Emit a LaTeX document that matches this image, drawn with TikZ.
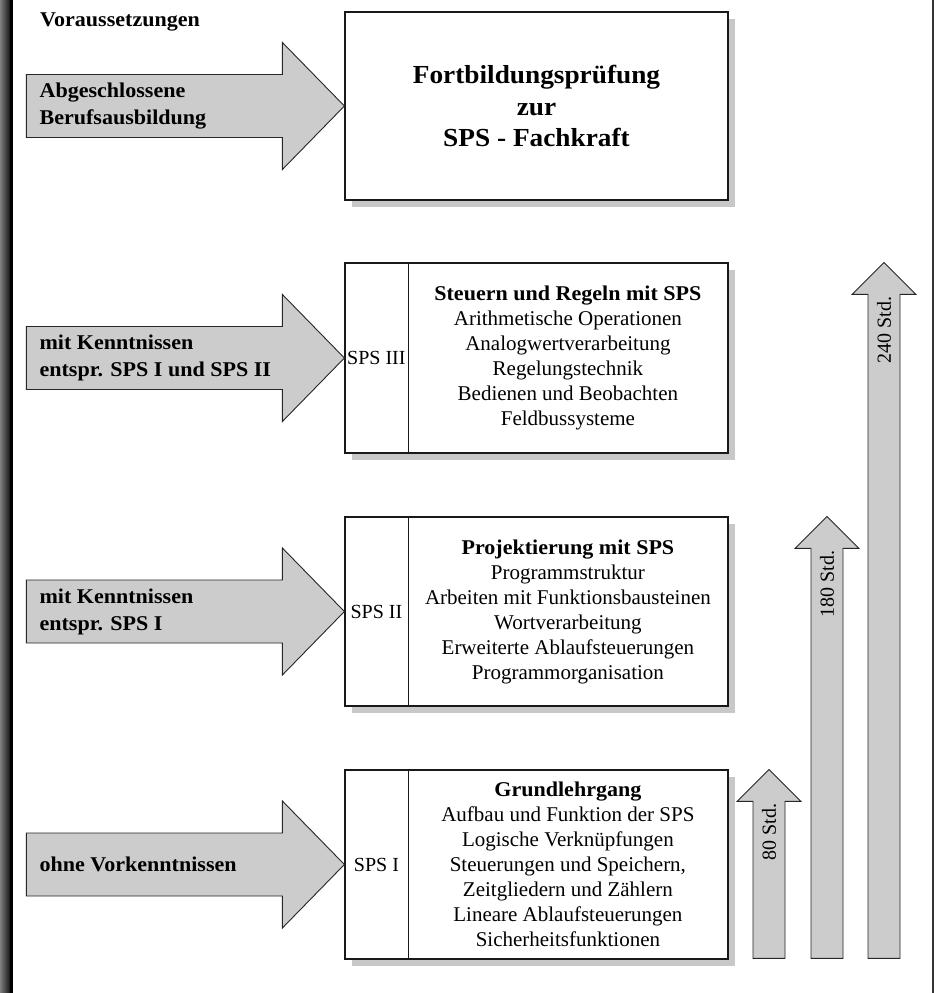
\documentclass[tikz,border=0pt]{standalone}
\usepackage{fontspec}
\setmainfont{Liberation Serif}
\newfontfamily\boldfont[FakeStretch=1.05]{Liberation Serif}
\usetikzlibrary{shadows,calc}
\definecolor{arrgray}{HTML}{CCCCCC}
\definecolor{shadowgray}{HTML}{C8C8C8}
\tikzset{
  bigarrow/.style={fill=arrgray, draw=black!85, line width=0.9pt, line join=miter},
  boxnode/.style={draw=black!90, line width=1.2pt, fill=white, minimum width=383pt, inner sep=0pt,
    drop shadow={shadow xshift=7pt, shadow yshift=-7pt, fill=shadowgray, opacity=1}},
  divider/.style={draw=black!90, line width=1.2pt},
  lbl/.style={font=\boldfont\bfseries\fontsize{21}{27}\selectfont, align=left, anchor=west, inner sep=0pt},
  body/.style={font=\fontsize{21}{25}\selectfont, align=center, inner sep=0pt},
  tag/.style={font=\fontsize{20}{24}\selectfont, inner sep=0pt},
  vlabel/.style={font=\fontsize{20}{24}\selectfont, rotate=90, anchor=east, inner sep=0pt},
  headbold/.style={font=\boldfont\bfseries\fontsize{26}{31.5}\selectfont, align=center, inner sep=0pt}
}
\begin{document}
\begin{tikzpicture}[x=1pt,y=-1pt]
\useasboundingbox (0,0) rectangle (939,993);
\fill[white] (0,0) rectangle (939,993);
% page borders
\shade[left color=black!50, right color=black!92] (0,0) rectangle (10,993);
\fill[black] (10,0) rectangle (12.5,993);
\draw[black!80, line width=1.5pt] (933,0) -- (933,993);

% heading
\node[lbl, anchor=base west] (vor) at (40,27) {Voraussetzungen};

% boxes
\node[boxnode, minimum height=188pt] (b0) at (536.5,106) {};
\node[boxnode, minimum height=190pt] (b3) at (536.5,358) {};
\node[boxnode, minimum height=189pt] (b2) at (536.5,611.5) {};
\node[boxnode, minimum height=189pt] (b1) at (536.5,864.5) {};

\foreach \b in {b3,b2,b1}{
  \draw[divider] ([xshift=64pt]\b.north west) -- ([xshift=64pt]\b.south west);
}

% box texts
\node[headbold] (t0) at (b0.center) {Fortbildungsprüfung\\zur\\SPS - Fachkraft};

\node[tag] (s3) at ([xshift=32pt]b3.west) {SPS III};
\node[body] (c3) at ([xshift=223.5pt]b3.west) {{\boldfont\bfseries Steuern und Regeln mit SPS}\\Arithmetische Operationen\\Analogwertverarbeitung\\Regelungstechnik\\Bedienen und Beobachten\\Feldbussysteme};

\node[tag] (s2) at ([xshift=32pt]b2.west) {SPS II};
\node[body] (c2) at ([xshift=223.5pt]b2.west) {{\boldfont\bfseries Projektierung mit SPS}\\Programmstruktur\\Arbeiten mit Funktionsbausteinen\\Wortverarbeitung\\Erweiterte Ablaufsteuerungen\\Programmorganisation};

\node[tag] (s1) at ([xshift=32pt]b1.west) {SPS I};
\node[body] (c1) at ([xshift=223.5pt]b1.west) {{\boldfont\bfseries Grundlehrgang}\\Aufbau und Funktion der SPS\\Logische Verknüpfungen\\Steuerungen und Speichern,\\Zeitgliedern und Zählern\\Lineare Ablaufsteuerungen\\Sicherheitsfunktionen};

% horizontal arrows pointing at the boxes
\foreach \b in {b0,b3,b2,b1}{
  \draw[bigarrow] (\b.west) -- ++(-62,-63.5) -- ++(0,32) -- ++(-256,0) -- ++(0,63) -- ++(256,0) -- ++(0,32) -- cycle;
}
\node[lbl] (l0) at ([xshift=-305pt]b0.west) {Abgeschlossene\\Berufsausbildung};
\node[lbl] (l3) at ([xshift=-305pt]b3.west) {mit Kenntnissen\\entspr. SPS I und SPS II};
\node[lbl] (l2) at ([xshift=-305pt]b2.west) {mit Kenntnissen\\entspr. SPS I};
\node[lbl] (l1) at ([xshift=-305pt]b1.west) {ohne Vorkenntnissen};

% vertical hour arrows
\coordinate (x80) at (769,0);
\coordinate (x180) at (827,0);
\coordinate (x240) at (884,0);
\coordinate (t80) at (x80 |- b1.north);
\coordinate (t180) at (x180 |- b2.north);
\coordinate (t240) at (x240 |- b3.north);

\draw[bigarrow] (t80) -- ++(32,32) -- ++(-16,0) -- ++(0,157) -- ++(-32,0) -- ++(0,-157) -- ++(-16,0) -- cycle;
\draw[bigarrow] (t180) -- ++(32,32) -- ++(-16,0) -- ++(0,410) -- ++(-32,0) -- ++(0,-410) -- ++(-16,0) -- cycle;
\draw[bigarrow] (t240) -- ++(32,32) -- ++(-16,0) -- ++(0,664) -- ++(-32,0) -- ++(0,-664) -- ++(-16,0) -- cycle;

\node[vlabel] (h80) at ($(t80)+(0,34)$) {80 Std.};
\node[vlabel] (h180) at ($(t180)+(0,34)$) {180 Std.};
\node[vlabel] (h240) at ($(t240)+(0,34)$) {240 Std.};
\end{tikzpicture}
\end{document}
